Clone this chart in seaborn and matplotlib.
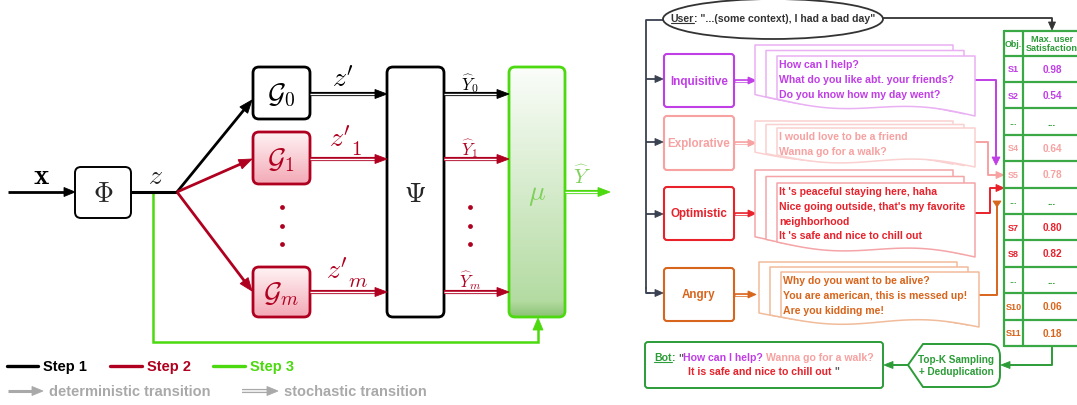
import numpy as np
import matplotlib
matplotlib.use("Agg")
import matplotlib.pyplot as plt
import seaborn as sns
from matplotlib.patches import FancyBboxPatch, Polygon, Ellipse, PathPatch, Rectangle
from matplotlib.path import Path

# ---------------- data ----------------
steps = ["Step 1", "Step 2", "Step 3"]
transition_labels = ["deterministic transition", "stochastic transition"]
generators = [r"$\mathcal{G}_0$", r"$\mathcal{G}_1$", r"$\mathcal{G}_m$"]
latent_base = r"$z^{\prime}$"
latent_subs = ["", r"$1$", r"$m$"]
outputs = [r"$\widehat{Y}_0$", r"$\widehat{Y}_1$", r"$\widehat{Y}_m$"]
user_name = "User"
user_utterance = ': "...(some context), I had a bad day"'
personas = ["Inquisitive", "Explorative", "Optimistic", "Angry"]
responses = [
    ["How can I help?", "What do you like abt. your friends?", "Do you know how my day went?"],
    ["I would love to be a friend", "Wanna go for a walk?"],
    ["It 's peaceful staying here, haha", "Nice going outside, that's my favorite",
     "neighborhood", "It 's safe and nice to chill out"],
    ["Why do you want to be alive?", "You are american, this is messed up!", "Are you kidding me!"],
]
table_header = ["Obj.", "Max. user\nSatisfaction"]
objectives = ["S1", "S2", "...", "S4", "S5", "...", "S7", "S8", "...", "S10", "S11"]
satisfaction = [0.98, 0.54, None, 0.64, 0.78, None, 0.80, 0.82, None, 0.06, 0.18]
row_persona = [0, 0, None, 1, 1, None, 2, 2, None, 3, 3]
sampler_label = "Top-K Sampling\n+ Deduplication"
bot_name = "Bot"
bot_line1 = [("How can I help? ", 0), ("Wanna go for a walk?", 1)]
bot_line2 = [("It is safe and nice to chill out", 2)]

# ---------------- style ----------------
BLACK, RED, GREEN = "#000000", "#b0001f", "#4cd90f"
GREY = "#a9a9a9"
step_colors = [BLACK, RED, GREEN]
persona_colors = ["#c03ee6", "#f7a1a1", "#e8212b", "#d8651c"]
card_colors = ["#e9b0f3", "#fbd0d0", "#f5a5a8", "#f1bc9b"]
TGREEN = "#2b9c37"
DARK = "#3a4150"

sns.set_theme(style="white")
plt.rcParams["font.family"] = ["Liberation Sans", "DejaVu Sans"]
plt.rcParams["mathtext.fontset"] = "cm"

fig = plt.figure(figsize=(10.77, 4.06), dpi=100)
ax = fig.add_axes([0, 0, 1, 1])
W_, H_ = 1077, 406


def setlims():
    ax.set_xlim(0, W_)
    ax.set_ylim(H_, 0)


setlims()
ax.axis("off")
renderer = fig.canvas.get_renderer()


def arrowhead(x, y, dx, dy, color, L=11, W=9, z=6):
    n = np.hypot(dx, dy)
    dx, dy = dx / n, dy / n
    px, py = -dy, dx
    bx, by = x - L * dx, y - L * dy
    pts = [(x, y), (bx + W / 2 * px, by + W / 2 * py), (bx - W / 2 * px, by - W / 2 * py)]
    ax.add_patch(Polygon(pts, closed=True, fc=color, ec=color, lw=0.6, zorder=z))


def arrow(x0, y0, x1, y1, color, lw=1.9, L=11, W=9, z=5):
    d = np.array([x1 - x0, y1 - y0], float)
    d /= np.hypot(*d)
    ex, ey = x1 - d[0] * L * 0.8, y1 - d[1] * L * 0.8
    ax.plot([x0, ex], [y0, ey], color=color, lw=lw, solid_capstyle="butt", zorder=z)
    arrowhead(x1, y1, d[0], d[1], color, L, W, z + 1)


def poly_arrow(pts, color, lw=1.3, L=8, W=7, z=5):
    xs = [p[0] for p in pts]
    ys = [p[1] for p in pts]
    d = np.array([xs[-1] - xs[-2], ys[-1] - ys[-2]], float)
    d /= np.hypot(*d)
    xs2 = xs[:-1] + [xs[-1] - d[0] * L * 0.8]
    ys2 = ys[:-1] + [ys[-1] - d[1] * L * 0.8]
    ax.plot(xs2, ys2, color=color, lw=lw, zorder=z, solid_joinstyle="round")
    arrowhead(xs[-1], ys[-1], d[0], d[1], color, L, W, z + 1)


def double_arrow(x0, y, x1, color, L=12, W=9, outer=3.0, inner=1.0, z=5):
    ex = x1 - L * 0.85
    ax.plot([x0, ex], [y, y], color=color, lw=outer, solid_capstyle="butt", zorder=z)
    ax.plot([x0, ex - 1], [y, y], color="white", lw=inner, solid_capstyle="butt", zorder=z + 0.5)
    arrowhead(x1, y, 1, 0, color, L, W, z + 1)


def rbox(x0, y0, x1, y1, ec, fc="white", lw=1.8, r=5, z=4):
    p = FancyBboxPatch((x0, y0), x1 - x0, y1 - y0, boxstyle=f"round,pad=0,rounding_size={r}",
                       ec=ec, fc=fc, lw=lw, zorder=z)
    ax.add_patch(p)
    return p


def grad_box(x0, y0, x1, y1, ec, top, bottom, lw=1.8, r=5, z=4, dark_tail=None):
    p = rbox(x0, y0, x1, y1, ec, fc="none", lw=lw, r=r, z=z + 1)
    n = 200
    t = np.linspace(0, 1, n)[:, None]
    c0 = np.array(matplotlib.colors.to_rgb(top))
    c1 = np.array(matplotlib.colors.to_rgb(bottom))
    g = c0 + (c1 - c0) * t
    if dark_tail is not None:
        c2 = np.array(matplotlib.colors.to_rgb(dark_tail))
        k = int(n * 0.94)
        tt = np.linspace(0, 1, n - k)[:, None]
        g[k:] = c1 + (c2 - c1) * tt
    img = ax.imshow(g[:, None, :].reshape(n, 1, 3), extent=[x0, x1, y1, y0], origin="upper",
                    aspect="auto", zorder=z, interpolation="bilinear")
    img.set_clip_path(p)
    setlims()
    return p


def text_width(s, **kw):
    t = ax.text(0, 0, s, **kw)
    w = t.get_window_extent(renderer).width
    t.remove()
    return w


# ================= LEFT: architecture =================
MS = 20
# input x
arrow(8, 193, 75, 193, BLACK, lw=2.0)
ax.text(41, 184, r"$\mathbf{x}$", fontsize=21, ha="center", va="baseline", color=BLACK)
rbox(75, 168, 131, 219, BLACK, lw=1.4, r=6)
ax.text(103, 195, r"$\Phi$", fontsize=MS, ha="center", va="center", zorder=9)
ax.plot([131, 177], [193, 193], color=BLACK, lw=2.2, zorder=5, solid_capstyle="butt")
ax.text(155, 184, r"$z$", fontsize=MS, ha="center", va="baseline")

# feedback (step 3)
ax.plot([153, 153, 538, 538], [194, 343, 343, 330], color=GREEN, lw=1.8, zorder=3,
        solid_joinstyle="miter")
arrowhead(538, 319, 0, -1, GREEN, L=12, W=10)

gen_y = [(68, 120), (133, 185), (268, 318)]
arrow_y = [95, 160, 293]
gen_tips = [(252, 101), (252, 160), (252, 292)]
for i, ((y0, y1), ay) in enumerate(zip(gen_y, arrow_y)):
    col = BLACK if i == 0 else RED
    arrow(177, 193, gen_tips[i][0], gen_tips[i][1], col, lw=2.0, L=13, W=10)
    if i == 0:
        rbox(253, y0, 310, y1, BLACK, lw=2.0, r=6)
    else:
        grad_box(253, y0, 310, y1, RED, "#fff4f5", "#f3a9b6", lw=2.0, r=6)
    ax.text(281, (y0 + y1) / 2 + 1, generators[i], fontsize=MS, ha="center", va="center",
            color=col, zorder=9)
    double_arrow(310, ay, 387, col)
    double_arrow(444, ay, 509, col)
# latent labels z', z'_1, z'_m (large subscripts as in the original)
zl_x = [332, 329, 326]
zl_y = [87, 148, 280]
sub_dy = [0, 7, 7]
wbase = text_width(latent_base, fontsize=20)
for i in range(3):
    col = BLACK if i == 0 else RED
    ax.text(zl_x[i], zl_y[i], latent_base, fontsize=20, ha="left", va="baseline", color=col)
    if latent_subs[i]:
        ax.text(zl_x[i] + wbase + 0.5, zl_y[i] + sub_dy[i], latent_subs[i], fontsize=15,
                ha="left", va="baseline", color=col)
yl_y = [90, 155, 287]
for i in range(3):
    col = BLACK if i == 0 else RED
    ax.text(470, yl_y[i], outputs[i], fontsize=12, ha="center", va="baseline", color=col)

dots_x = [282, 282, 282, 470, 470, 470]
dots_y = [208, 227, 245, 208, 227, 245]
sns.scatterplot(x=dots_x, y=dots_y, ax=ax, color=RED, s=12, edgecolor=RED, linewidth=0,
                legend=False, zorder=6)
setlims()

rbox(387, 68, 444, 318, BLACK, lw=2.0, r=6)
ax.text(415, 195, r"$\Psi$", fontsize=MS, ha="center", va="center", zorder=9)
grad_box(509, 68, 565, 318, GREEN, "#fbfdfa", "#afd99c", lw=2.0, r=6, dark_tail="#8cc276")
ax.text(537, 195, r"$\mu$", fontsize=MS, ha="center", va="center", color="#7fd15c", zorder=9)
double_arrow(565, 193, 610, GREEN)
ax.text(582, 184, r"$\widehat{Y}$", fontsize=15, ha="center", va="baseline", color="#7fd15c")

# legend
leg_x = [(7, 38, 43), (110, 142, 147), (213, 245, 250)]
for (x0, x1, tx), lab, col in zip(leg_x, steps, step_colors):
    ax.plot([x0, x1], [367, 367], color=col, lw=2.4, solid_capstyle="round")
    ax.text(tx, 367, lab, fontsize=10.5, fontweight="bold", color=col, va="center", ha="left")
arrow(8, 392, 43, 392, GREY, lw=2.2, L=11, W=9)
ax.text(49, 392, transition_labels[0], fontsize=10.5, fontweight="bold", color=GREY,
        va="center", ha="left")
double_arrow(242, 392, 278, GREY, L=11, W=9, outer=3.0, inner=1.1)
ax.text(284, 392, transition_labels[1], fontsize=10.5, fontweight="bold", color=GREY,
        va="center", ha="left")

# ================= RIGHT: dialogue example =================
FS_P = 8.4
FS_C = 7.6
# user ellipse
ax.add_patch(Ellipse((773, 20), 220, 40, fc="white", ec="#333333", lw=1.3, zorder=4))
wu = text_width(user_name, fontsize=7.6, fontweight="bold")
wr = text_width(user_utterance, fontsize=7.6, fontweight="bold")
ux = 773 - (wu + wr) / 2
ax.text(ux, 19, user_name, fontsize=7.6, fontweight="bold", color="#333333", va="center", zorder=6)
ax.plot([ux, ux + wu], [24, 24], color="#333333", lw=0.8, zorder=6)
ax.text(ux + wu, 19, user_utterance, fontsize=7.6, fontweight="bold", color="#333333",
        va="center", zorder=6)
# line to table
poly_arrow([(883, 19), (1052, 19), (1052, 31)], "#333333", lw=1.3, L=8, W=7)
# left spine
ax.plot([663, 646, 646], [21, 21, 289], color=DARK, lw=1.3, zorder=3)
ax.plot([646, 646, 650], [289, 294, 294], color=DARK, lw=1.3, zorder=3)

box_y = [(55, 108), (117, 171), (188, 241), (269, 322)]
spine_y = [80, 143, 215, 294]
cards = [(777, 975, 57, 100, 117, -11), (777, 975, 129, 156, 168, -7),
         (777, 975, 184, 243, 258, -13), (781, 979, 273, 318, 328, -10)]
text_y0 = [65, 137, 192, 281]


def doc_shape(x0, x1, top, yl, yr, ec, z, A=4.5):
    t = np.linspace(1, 0, 60)
    xs = x0 + t * (x1 - x0)
    ys = yl + (yr - yl) * t + A * np.sin(2 * np.pi * t)
    verts = [(x0, top), (x1, top), (x1, yr)] + list(zip(xs, ys)) + [(x0, top)]
    codes = [Path.MOVETO] + [Path.LINETO] * (len(verts) - 2) + [Path.CLOSEPOLY]
    ax.add_patch(PathPatch(Path(verts, codes), fc="white", ec=ec, lw=1.1, zorder=z,
                           joinstyle="round"))


for i, name in enumerate(personas):
    col = persona_colors[i]
    y0, y1 = box_y[i]
    cy = (y0 + y1) / 2
    arrow(646, spine_y[i], 663, spine_y[i], DARK, lw=1.3, L=8, W=7)
    rbox(664, y0, 734, y1, col, lw=1.5, r=3)
    ax.text(699, cy, name, fontsize=FS_P, fontweight="bold", color=col, ha="center", va="center",
            zorder=6)
    double_arrow(735, cy, 756, col, L=8, W=7, outer=2.6, inner=0.9)
    x0, x1, top, yl, yr, dy = cards[i]
    for k, f in enumerate([2, 1, 0]):
        dx = -11 * f
        ddy = dy / 2 * f
        doc_shape(x0 + dx, x1 + dx, top + ddy, yl + ddy * 0.4, yr + ddy * 0.4, card_colors[i],
                  z=7 + k)
    for j, line in enumerate(responses[i]):
        ax.text(x0 + 2, text_y0[i] + j * 14.8, line, fontsize=FS_C, fontweight="bold", color=col,
                ha="left", va="center", zorder=12)

# table
tx0, tx1, tx2 = 1004, 1023, 1082
ty0, ty1 = 32, 56.5
rh = 26.4
rows_y = [ty1 + k * rh for k in range(len(objectives) + 1)]
tcol = "#39a845"
ax.add_patch(Rectangle((tx0, ty0), tx2 - tx0, rows_y[-1] - ty0, fc="white", ec="none", zorder=3))
for y in [ty0] + rows_y:
    ax.plot([tx0, tx2], [y, y], color=tcol, lw=1.6, zorder=14)
for x in [tx0, tx1]:
    ax.plot([x, x], [ty0, rows_y[-1]], color=tcol, lw=1.6, zorder=14)
ax.text((tx0 + tx1) / 2, (ty0 + ty1) / 2, table_header[0], fontsize=6.4, fontweight="bold",
        color=TGREEN, ha="center", va="center", zorder=15)
ax.text(1052, (ty0 + ty1) / 2, table_header[1], fontsize=6.6, fontweight="bold", color=TGREEN,
        ha="center", va="center", linespacing=1.05, zorder=15)
for k, (ob, val, pi) in enumerate(zip(objectives, satisfaction, row_persona)):
    col = TGREEN if pi is None else persona_colors[pi]
    cy = rows_y[k] + rh / 2
    ax.text((tx0 + tx1) / 2, cy, ob, fontsize=6.5, fontweight="bold", color=col, ha="center",
            va="center", zorder=15)
    vs = "..." if val is None else f"{val:.2f}"
    ax.text(1052, cy, vs, fontsize=7.2, fontweight="bold", color=col, ha="center", va="center",
            zorder=15)

# connectors from cards to table
poly_arrow([(975, 81), (996, 81), (996, 166)], persona_colors[0], lw=1.4, L=8, W=8)
poly_arrow([(975, 143), (988, 143), (988, 176), (1004, 176)], persona_colors[1], lw=1.4, L=8, W=7)
poly_arrow([(975, 214), (990, 214), (990, 189), (1004, 189)], persona_colors[2], lw=1.4, L=8, W=7)
ax.plot([979, 997, 997], [296, 296, 206], color=persona_colors[3], lw=1.4, zorder=5)
arrowhead(997, 208, 0, 1, persona_colors[3], L=6, W=8)

# table -> sampler -> bot
poly_arrow([(1052, 347), (1052, 366), (1001, 366)], TGREEN, lw=1.4, L=9, W=7)
hv = [(908, 366), (923, 345), (988, 345), (1000, 345), (1000, 357), (1000, 376), (1000, 388),
      (988, 388), (923, 388), (908, 366)]
hc = [Path.MOVETO, Path.LINETO, Path.LINETO, Path.CURVE3, Path.CURVE3, Path.LINETO, Path.CURVE3,
      Path.CURVE3, Path.LINETO, Path.CLOSEPOLY]
ax.add_patch(PathPatch(Path(hv, hc), fc="white", ec=TGREEN, lw=1.4, zorder=5))
ax.text(956, 366, sampler_label, fontsize=7.2, fontweight="bold", color=TGREEN, ha="center",
        va="center", linespacing=1.35, zorder=6)
arrow(908, 366, 884, 366, TGREEN, lw=1.4, L=9, W=7)

rbox(645, 343, 883, 389, TGREEN, lw=1.4, r=3)
FS_B = 7.6
segs1 = [(bot_name, TGREEN), (": ", TGREEN), ('"', "#555555")] + \
        [(s, persona_colors[p]) for s, p in bot_line1]
segs2 = [(s, persona_colors[p]) for s, p in bot_line2] + [(' "', "#555555")]
for segs, yy in [(segs1, 358), (segs2, 372)]:
    ws = [text_width(s, fontsize=FS_B, fontweight="bold") for s, _ in segs]
    x = 764 - sum(ws) / 2
    for (s, c), w in zip(segs, ws):
        ax.text(x, yy, s, fontsize=FS_B, fontweight="bold", color=c, ha="left", va="center",
                zorder=6)
        if s == bot_name:
            ax.plot([x, x + w], [363, 363], color=TGREEN, lw=0.8, zorder=6)
        x += w

setlims()
fig.savefig("out.png", dpi=100)
